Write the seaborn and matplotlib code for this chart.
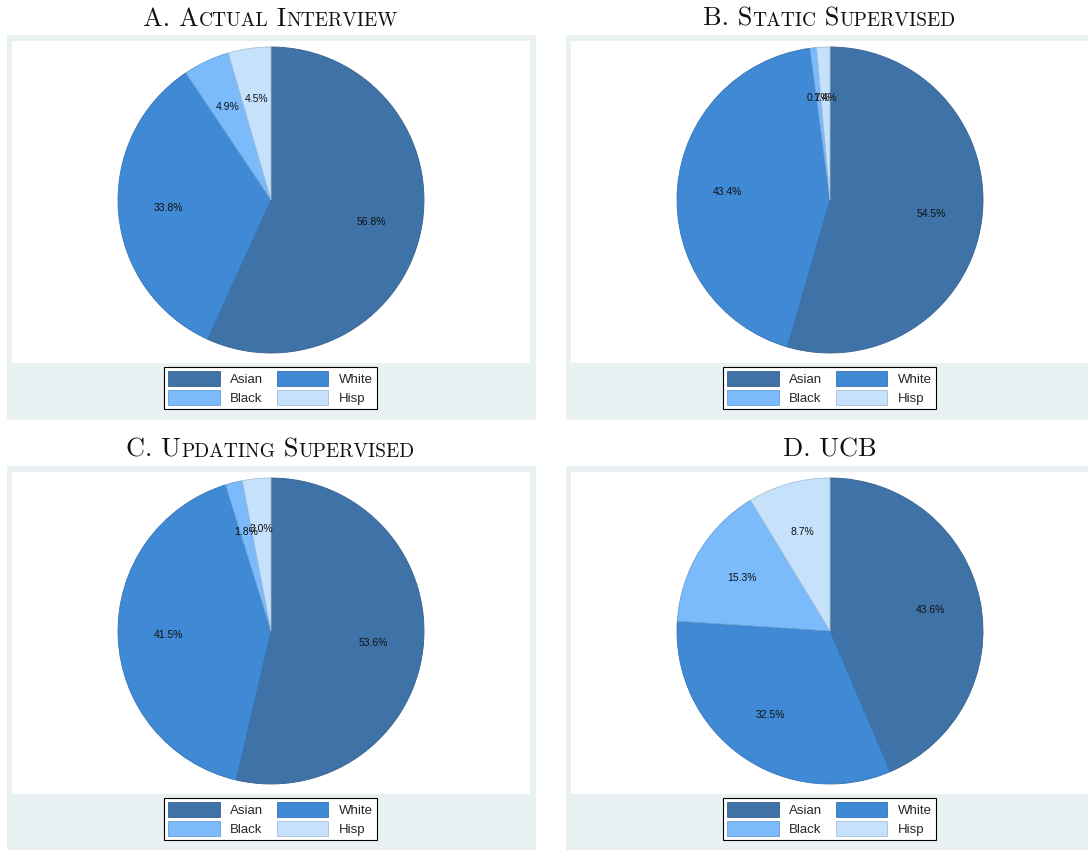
import numpy as np
import seaborn as sns
import matplotlib.pyplot as plt
from matplotlib.patches import Rectangle
from matplotlib.offsetbox import TextArea, HPacker, AnchoredOffsetbox

categories = ['Asian', 'White', 'Black', 'Hisp']
actual = [56.8, 33.8, 4.9, 4.5]
static = [54.5, 43.4, 0.7, 1.4]
updating = [53.6, 41.5, 1.8, 3.0]
ucb = [43.6, 32.5, 15.3, 8.7]
titles = ['A. Actual Interview', 'B. Static Supervised',
          'C. Updating Supervised', 'D. UCB']

sns.set_style('white')
colors = sns.color_palette(['#3F73A7', '#3F89D5', '#7CBBFB', '#C6E1FB'])
plt.rcParams['font.family'] = ['Liberation Sans', 'DejaVu Sans']

W, H = 1088, 850
fig = plt.figure(figsize=(W / 100, H / 100), dpi=100)


def box(x, y, w, h):
    # pixel box (top-left origin) -> figure rect
    return [x / W, 1 - (y + h) / H, w / W, h / H]


def small_caps(text, big, small):
    runs = []
    for ch in text:
        low = ch.islower()
        if runs and runs[-1][1] == low:
            runs[-1][0] += ch
        else:
            runs.append([ch, low])
    parts = [TextArea(s.upper(), textprops=dict(fontsize=small if low else big,
                                                family='cmr10', color='#111111'))
             for s, low in runs]
    return HPacker(children=parts, align='baseline', pad=0, sep=0)


panels = [actual, static, updating, ucb]
for i, (vals, title) in enumerate(zip(panels, titles)):
    col, row = i % 2, i // 2
    x0 = 7 + col * 559
    y0 = 35 + row * 431

    bg = fig.add_axes(box(x0, y0, 529, 385))
    bg.set_facecolor('#EAF1F3')
    bg.add_patch(Rectangle((5 / 529, 1 - 328 / 385), 518 / 529, 322 / 385,
                           transform=bg.transAxes, facecolor='white', edgecolor='none'))
    bg.set_xticks([])
    bg.set_yticks([])
    for s in bg.spines.values():
        s.set_visible(False)

    ax = fig.add_axes(box(x0 + 264 - 153, y0 + 165 - 153, 306, 306))
    wedges, texts = ax.pie(vals, colors=colors, startangle=90, counterclock=False,
                           labels=[f'{v:.1f}%' for v in vals], labeldistance=0.67,
                           wedgeprops=dict(linewidth=0.6),
                           textprops=dict(fontsize=7.5, color='#111111'))
    for w, c in zip(wedges, colors):
        w.set_edgecolor(tuple(np.array(c) * 0.85))
    for t in texts:
        t.set_ha('center')
        t.set_va('center')
    ax.set_xlim(-1, 1)
    ax.set_ylim(-1, 1)
    ax.set_aspect('equal')
    ax.axis('off')

    order = [0, 2, 1, 3]
    lx = (x0 + 263.5) / W
    ly = 1 - (y0 + 353) / H
    leg = fig.legend([wedges[k] for k in order], [categories[k] for k in order],
                     loc='center', bbox_to_anchor=(lx, ly), ncol=2, fontsize=9.5,
                     handlelength=3.9, handleheight=1.35, columnspacing=1.0,
                     labelspacing=0.35, borderpad=0.3, handletextpad=0.8,
                     fancybox=False, edgecolor='black', framealpha=1)
    leg.get_frame().set_linewidth(0.8)

    tb = AnchoredOffsetbox(loc='center', child=small_caps(title, 19, 14),
                           bbox_to_anchor=((x0 + 263.5) / W, 1 - (y0 - 16) / H),
                           bbox_transform=fig.transFigure, frameon=False,
                           pad=0, borderpad=0)
    fig.add_artist(tb)

fig.savefig('out.png', dpi=100)
